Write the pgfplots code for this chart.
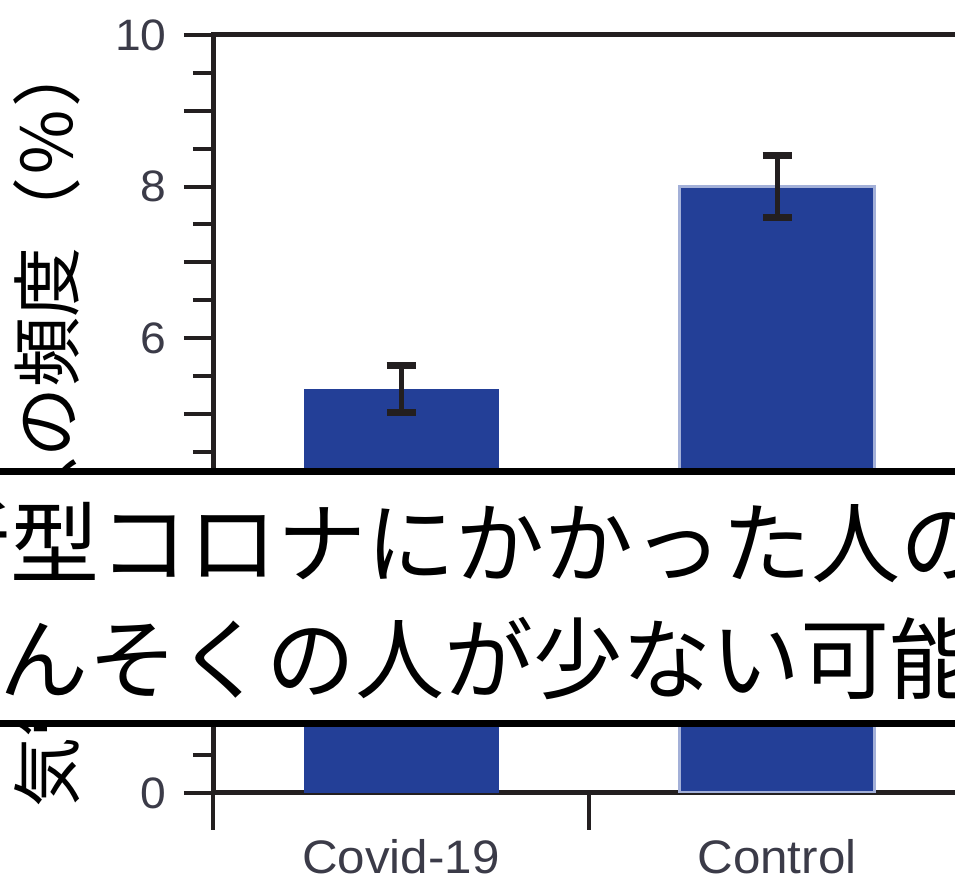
\documentclass[border=0pt]{standalone}
\usepackage{fontspec}
\usepackage{pgfplots}
\pgfplotsset{compat=1.18}
\setmainfont{Liberation Sans}
\newfontfamily\cjk{Noto Sans CJK JP}
\newfontfamily\lab[FakeStretch=1.05]{Liberation Sans}
\definecolor{barblue}{RGB}{35,63,151}
\definecolor{baredge}{RGB}{163,176,216}
\definecolor{axc}{RGB}{35,31,32}
\definecolor{tlc}{RGB}{59,59,72}
\begin{document}
\begin{tikzpicture}
\useasboundingbox (0,0) rectangle (955pt,885pt);
\clip (0,0) rectangle (955pt,885pt);
\begin{axis}[
  at={(213pt,92pt)}, anchor=south west,
  scale only axis, width=827.2pt, height=758pt,
  xmin=-0.5, xmax=1.7, ymin=0, ymax=10,
  axis line style={line width=5pt, color=axc},
  tick align=outside, tick pos=left,
  major tick length=29pt, minor tick length=20pt,
  tick style={line width=4pt, color=axc},
  ytick={0,2,4,6,8,10},
  minor ytick={0.5,1.5,...,9.5},
  extra y ticks={1,3,5,7,9}, extra y tick labels={},
  xtick={0,1}, xticklabels={Covid-19,Control},
  major x tick style={draw=none},
  extra x ticks={-0.5,0.5,1.5}, extra x tick labels={},
  extra x tick style={major tick length=37pt, major x tick style={draw=axc}},
  /pgf/number format/assume math mode=true,
  yticklabel style={font=\lab\fontsize{44}{44}\selectfont, text=tlc, xshift=-14pt},
  xticklabel style={font=\lab\fontsize{47}{47}\selectfont, text=tlc, yshift=-14pt},
  ylabel={\cjk 気管支喘息の頻度（％）},
  ylabel style={font=\fontsize{70}{70}\selectfont, text=black, at={(rel axis cs:-0.201,0.489)}, anchor=center},
  ybar, bar width=195pt,
]
\addplot[bar shift=0pt, fill=barblue, draw=none,
  error bars/.cd, y dir=both, y explicit,
  error bar style={line width=5pt, color=axc},
  error mark options={line width=7pt, mark size=14.5pt, rotate=90, color=axc}]
  coordinates {(0,5.33) +- (0,0.31)};
\addplot[bar shift=0pt, fill=barblue, draw=baredge, line width=3pt,
  error bars/.cd, y dir=both, y explicit,
  error bar style={line width=5pt, color=axc},
  error mark options={line width=7pt, mark size=14.5pt, rotate=90, color=axc}]
  coordinates {(1,8.0) +- (0,0.41)};
\end{axis}
\fill[white] (-20pt,162pt) rectangle (975pt,413pt);
\draw[line width=7pt, black] (-20pt,413pt) -- (975pt,413pt);
\draw[line width=7pt, black] (-20pt,161.5pt) -- (975pt,161.5pt);
\node[anchor=base west, inner sep=0pt, font=\cjk\fontsize{89}{89}\selectfont] at (-79pt,308pt) {新型コロナにかかった人のほうが};
\node[anchor=base west, inner sep=0pt, font=\cjk\fontsize{89}{89}\selectfont] at (-90pt,192pt) {ぜんそくの人が少ない可能性};
\end{tikzpicture}
\end{document}
